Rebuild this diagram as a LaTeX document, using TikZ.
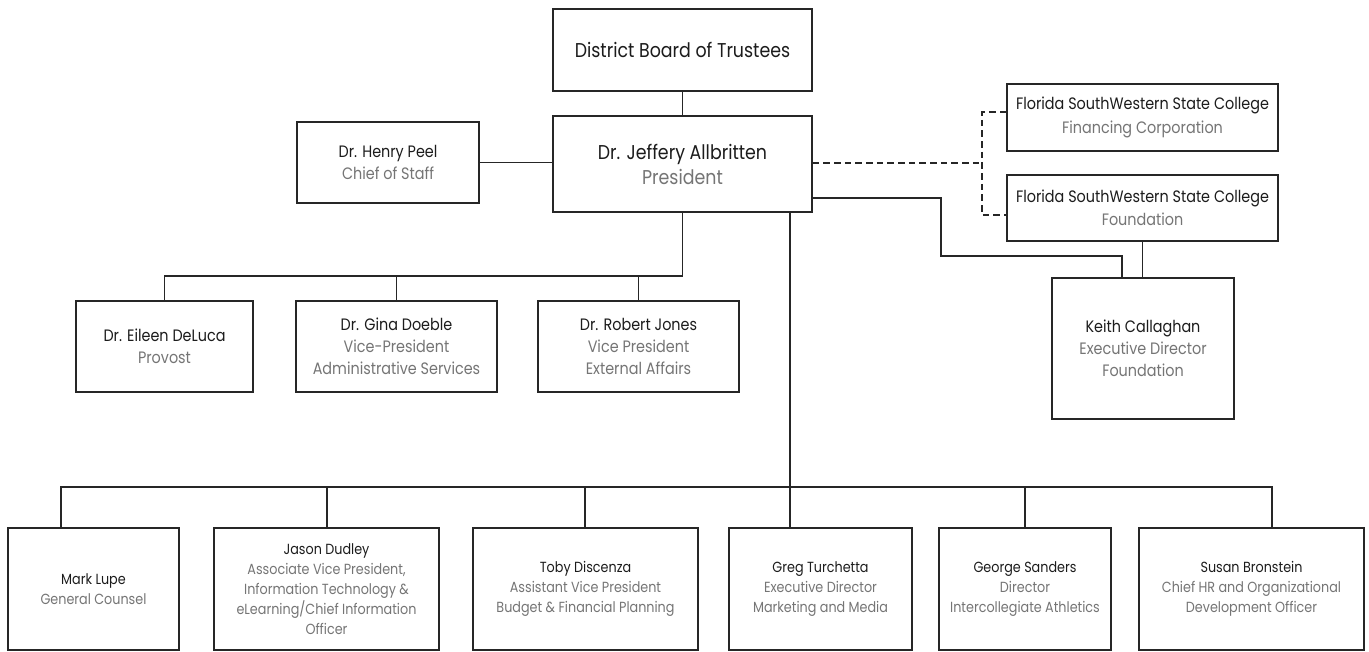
\documentclass[tikz,border=0pt]{standalone}
\usepackage{fontspec}
\setmainfont{Poppins}[FakeStretch=0.87]
\newdimen\pxu \pxu=0.75pt
\definecolor{ln}{HTML}{262626}
\definecolor{nm}{HTML}{1C1C1C}
\definecolor{tt}{HTML}{757575}
\newcommand\nmx[1]{{\color{nm}#1}}
\tikzset{
  box/.style={draw=ln, line width=1.2pt, fill=white, align=center, inner sep=0pt, text=tt},
  big/.style={font=\fontsize{15pt}{18.75pt}\selectfont},
  mid/.style={font=\fontsize{12.4pt}{16.5pt}\selectfont},
  sml/.style={font=\fontsize{11pt}{15pt}\selectfont},
  conn/.style={draw=ln, line width=1.2pt},
  dconn/.style={conn, dash pattern=on 5pt off 3pt}
}
\begin{document}
\begin{tikzpicture}[x=0.75pt,y=-0.75pt]
\fill[white] (0,0) rectangle (1369,652);
\useasboundingbox (0,0) rectangle (1369,652);
% top
\node[box,big,minimum width=259\pxu,minimum height=82\pxu] (dist) at (682.5,50) {\nmx{District Board of Trustees}};
\node[box,big,minimum width=259\pxu,minimum height=96\pxu] (pres) at (682.5,164) {\nmx{Dr. Jeffery Allbritten}\\President};
\node[box,mid,minimum width=182\pxu,minimum height=81\pxu] (peel) at (388,162.5) {\nmx{Dr. Henry Peel}\\Chief of Staff};
\node[box,mid,minimum width=271\pxu,minimum height=67\pxu,font=\fontsize{12.4pt}{17.5pt}\selectfont] (fin) at (1142.5,117.5) {\nmx{Florida SouthWestern State College}\\Financing Corporation};
\node[box,mid,minimum width=271\pxu,minimum height=66\pxu,font=\fontsize{12.4pt}{17.5pt}\selectfont] (fdn) at (1142.5,208) {\nmx{Florida SouthWestern State College}\\Foundation};
\node[box,mid,minimum width=182\pxu,minimum height=141\pxu] (keith) at (1143,348.5) {\nmx{Keith Callaghan}\\Executive Director\\Foundation};
% middle row
\node[box,mid,minimum width=177\pxu,minimum height=91\pxu] (eileen) at (164.5,346.5) {\nmx{Dr. Eileen DeLuca}\\Provost};
\node[box,mid,minimum width=201\pxu,minimum height=91\pxu] (gina) at (396.5,346.5) {\nmx{Dr. Gina Doeble}\\Vice-President\\Administrative Services};
\node[box,mid,minimum width=201\pxu,minimum height=91\pxu] (robert) at (638.5,346.5) {\nmx{Dr. Robert Jones}\\Vice President\\External Affairs};
% bottom row
\node[box,sml,minimum width=171\pxu,minimum height=122\pxu] (mark) at (93.5,589) {\nmx{Mark Lupe}\\General Counsel};
\node[box,sml,minimum width=225\pxu,minimum height=122\pxu] (jason) at (326.5,589) {\nmx{Jason Dudley}\\Associate Vice President,\\Information Technology \&\\eLearning/Chief Information\\Officer};
\node[box,sml,minimum width=225\pxu,minimum height=122\pxu] (toby) at (585.5,589) {\nmx{Toby Discenza}\\Assistant Vice President\\Budget \& Financial Planning};
\node[box,sml,minimum width=183\pxu,minimum height=122\pxu] (greg) at (820.5,589) {\nmx{Greg Turchetta}\\Executive Director\\Marketing and Media};
\node[box,sml,minimum width=172\pxu,minimum height=122\pxu] (george) at (1025,589) {\nmx{George Sanders}\\Director\\Intercollegiate Athletics};
\node[box,sml,minimum width=225\pxu,minimum height=122\pxu] (susan) at (1251.5,589) {\nmx{Susan Bronstein}\\Chief HR and Organizational\\Development Officer};
% coordinates
\coordinate (dy) at (0,163);
\coordinate (dj) at (982,163);
\coordinate (fy) at (0,112);
\coordinate (gy) at (0,215);
\coordinate (sy) at (0,198);
\coordinate (k1) at (941,256);
\coordinate (k2) at (1122,256);
\coordinate (mbus) at (0,276);
\coordinate (bbus) at (0,487);
\coordinate (bl) at (61,487);
\coordinate (bj) at (327,487);
\coordinate (bt) at (585,487);
\coordinate (bg) at (790,487);
\coordinate (bs) at (1025,487);
\coordinate (br) at (1272,487);
% connectors
\draw[conn] (dist.south) -- (pres.north);
\draw[conn] (peel.east) -- (peel.east -| pres.west);
\draw[dconn] (pres.east |- dy) -- (dj);
\draw[dconn] (fin.west |- fy) -- (dj |- fy) -- (dj |- gy) -- (fdn.west |- gy);
\draw[conn] (pres.east |- sy) -- (k1 |- sy) -- (k1) -- (k2) -- (k2 |- keith.north);
\draw[conn] (fdn.south) -- (fdn.south |- keith.north);
\draw[conn] (pres.south) -- (pres.south |- mbus) -- (eileen.north |- mbus) -- (eileen.north);
\draw[conn] (gina.north |- mbus) -- (gina.north);
\draw[conn] (robert.north |- mbus) -- (robert.north);
\draw[conn] (bg |- pres.south) -- (bg |- greg.north);
\draw[conn] (bl |- mark.north) -- (bl) -- (br) -- (br |- susan.north);
\draw[conn] (bj) -- (bj |- jason.north);
\draw[conn] (bt) -- (bt |- toby.north);
\draw[conn] (bs) -- (bs |- george.north);
\end{tikzpicture}
\end{document}
